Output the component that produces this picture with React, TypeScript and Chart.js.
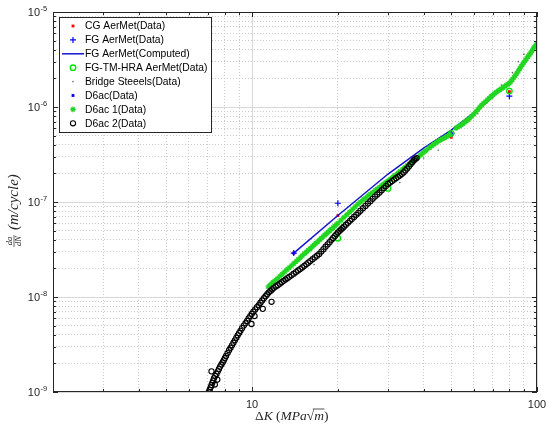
import React, { useEffect, useRef } from 'react';
import { Chart, registerables } from 'chart.js';
import { drawPoint } from 'chart.js/helpers';

Chart.register(...registerables);

// ---------- axis tick labels ----------
const xTickValues = [10, 100];
const xTickLabels = ['10', '100'];
const yTickExponents = [-5, -6, -7, -8, -9];
const yTickLabelBase = '10';

// ---------- series ----------
const legendLabels = [
  'CG AerMet(Data)',
  'FG AerMet(Data)',
  'FG AerMet(Computed)',
  'FG-TM-HRA AerMet(Data)',
  'Bridge Steeels(Data)',
  'D6ac(Data)',
  'D6ac 1(Data)',
  'D6ac 2(Data)',
];

const cgX = [14, 20, 50, 80];
const cgY = [2.9e-8, 7.2e-8, 4.8e-7, 1.45e-6];

const fgX = [14, 20, 50, 80];
const fgY = [2.9e-8, 9.7e-8, 5.3e-7, 1.3e-6];

const fgCompX = [14, 20, 30, 40, 50, 65, 80];
const fgCompY = [2.9e-8, 7.2e-8, 1.97e-7, 3.7e-7, 5.7e-7, 1.05e-6, 1.85e-6];

const hraX = [20, 30, 50, 80];
const hraY = [4.15e-8, 1.39e-7, 5.28e-7, 1.47e-6];

const bridgeX = [16.5, 22, 26, 28, 33, 36.5, 40, 44, 45, 55, 62, 70, 75, 82, 86, 90];
const bridgeY = [2.2e-8, 6.5e-8, 1.25e-7, 1.3e-7, 1.6e-7, 2.6e-7, 2.9e-7, 4.2e-7, 3.5e-7, 6.5e-7, 8.5e-7, 1.25e-6, 1.7e-6, 2.3e-6, 3.0e-6, 3.6e-6];

const d6acX = [14, 50];
const d6acY = [2.9e-8, 5.2e-7];

const d6ac1X = [
  11.4, 11.55, 11.7, 11.85, 12.0, 12.25, 12.5, 12.75, 13.0, 13.25, 13.5, 13.75, 14.0, 14.25, 14.5, 14.75,
  15.0, 15.25, 15.5, 15.75, 16.0, 16.25, 16.5, 16.75, 17.0, 17.25, 17.5, 17.75, 18.0, 18.25, 18.5, 18.75,
  19.0, 19.25, 19.5, 19.75, 20.0, 20.5, 21.0, 21.5, 22.0, 22.5, 23.0, 23.5, 24.0, 24.5, 25.0, 25.5,
  26.0, 26.5, 27.0, 27.5, 28.0, 28.5, 29.0, 29.5, 30.0, 30.6, 31.2, 31.8, 32.5, 33.1, 33.8, 34.4,
  35.0, 35.6, 36.3, 36.9, 37.6, 38.3, 39.0, 39.7, 40.5, 41.2, 42.0, 42.7, 43.5, 44.2, 45.0, 45.7,
  46.5, 47.2, 48.0, 48.7, 49.5, 52.0, 52.7, 53.5, 54.2, 55.0, 55.7, 56.5, 57.2, 58.0, 59.0, 60.0,
  61.0, 62.0, 63.0, 64.0, 65.0, 66.0, 67.0, 68.0, 69.0, 70.0, 71.0, 72.0, 73.0, 74.0, 75.0, 76.0,
  77.0, 78.0, 79.0, 80.0, 81.0, 82.0, 83.0, 84.0, 85.0, 86.0, 87.0, 88.0, 89.0, 90.0, 91.0, 92.0,
  93.0, 94.0, 95.0, 96.0, 97.0, 98.0, 99.0, 99.8,
];
const d6ac1Y = [
  1.28e-8, 1.33e-8, 1.38e-8, 1.43e-8, 1.48e-8, 1.56e-8, 1.65e-8, 1.74e-8, 1.84e-8, 1.94e-8, 2.04e-8, 2.14e-8, 2.25e-8, 2.36e-8, 2.48e-8, 2.6e-8,
  2.72e-8, 2.85e-8, 2.97e-8, 3.11e-8, 3.24e-8, 3.39e-8, 3.53e-8, 3.68e-8, 3.83e-8, 3.99e-8, 4.15e-8, 4.32e-8, 4.49e-8, 4.66e-8, 4.83e-8, 5.01e-8,
  5.2e-8, 5.38e-8, 5.58e-8, 5.78e-8, 5.98e-8, 6.43e-8, 6.88e-8, 7.35e-8, 7.85e-8, 8.37e-8, 8.9e-8, 9.48e-8, 1.0e-7, 1.06e-7, 1.1e-7, 1.16e-7,
  1.21e-7, 1.26e-7, 1.32e-7, 1.37e-7, 1.43e-7, 1.49e-7, 1.55e-7, 1.61e-7, 1.67e-7, 1.75e-7, 1.84e-7, 1.92e-7, 2.02e-7, 2.11e-7, 2.22e-7, 2.31e-7,
  2.41e-7, 2.51e-7, 2.63e-7, 2.73e-7, 2.85e-7, 2.98e-7, 3.12e-7, 3.27e-7, 3.42e-7, 3.58e-7, 3.75e-7, 3.9e-7, 4.05e-7, 4.2e-7, 4.35e-7, 4.47e-7,
  4.6e-7, 4.72e-7, 4.85e-7, 4.97e-7, 5.1e-7, 6.0e-7, 6.15e-7, 6.3e-7, 6.5e-7, 6.7e-7, 6.9e-7, 7.1e-7, 7.35e-7, 7.6e-7, 8.0e-7, 8.4e-7,
  8.9e-7, 9.4e-7, 9.95e-7, 1.05e-6, 1.1e-6, 1.14e-6, 1.19e-6, 1.24e-6, 1.29e-6, 1.34e-6, 1.39e-6, 1.43e-6, 1.48e-6, 1.52e-6, 1.56e-6, 1.6e-6,
  1.65e-6, 1.69e-6, 1.73e-6, 1.78e-6, 1.86e-6, 1.95e-6, 2.05e-6, 2.15e-6, 2.27e-6, 2.4e-6, 2.54e-6, 2.68e-6, 2.81e-6, 2.95e-6, 3.1e-6, 3.25e-6,
  3.4e-6, 3.55e-6, 3.72e-6, 3.9e-6, 4.1e-6, 4.3e-6, 4.45e-6, 4.6e-6,
];

const d6ac2X = [
  7.05, 7.1, 7.15, 7.2, 7.25, 7.3, 7.35, 7.42, 7.5, 7.58, 7.65, 7.72, 7.8, 7.88, 7.95, 8.02,
  8.1, 8.2, 8.3, 8.4, 8.5, 8.6, 8.7, 8.8, 8.9, 9.0, 9.1, 9.22, 9.35, 9.48, 9.6, 9.72,
  9.85, 9.97, 10.1, 10.25, 10.4, 10.55, 10.7, 10.85, 11.0, 11.15, 11.3, 11.45, 11.6, 11.75, 11.9, 12.1,
  12.3, 12.5, 12.7, 12.9, 13.1, 13.3, 13.5, 13.75, 14.0, 14.25, 14.5, 14.75, 15.0, 15.25, 15.5, 15.75,
  16.0, 16.3, 16.6, 16.9, 17.2, 17.5, 17.8, 18.1, 18.4, 18.7, 19.0, 19.25, 19.5, 19.75, 20.0, 20.25,
  20.5, 20.75, 21.0, 21.35, 21.7, 22.05, 22.4, 22.8, 23.2, 23.6, 24.0, 24.5, 25.0, 25.5, 26.0, 26.5,
  27.0, 27.5, 28.0, 28.5, 29.0, 29.5, 30.0, 30.5, 31.0, 31.5, 32.0, 32.5, 33.0, 33.5, 34.0, 34.5,
  35.0, 35.5, 36.0, 36.5, 37.0, 37.4, 37.8,
  7.2, 7.55, 7.4, 9.95, 10.2, 10.9, 11.7,
];
const d6ac2Y = [
  1.0e-9, 1.06e-9, 1.12e-9, 1.18e-9, 1.25e-9, 1.32e-9, 1.4e-9, 1.47e-9, 1.55e-9, 1.65e-9, 1.75e-9, 1.85e-9, 1.95e-9, 2.05e-9, 2.15e-9, 2.27e-9,
  2.4e-9, 2.57e-9, 2.75e-9, 2.92e-9, 3.1e-9, 3.3e-9, 3.5e-9, 3.72e-9, 3.95e-9, 4.17e-9, 4.4e-9, 4.7e-9, 5.0e-9, 5.3e-9, 5.6e-9, 5.95e-9,
  6.3e-9, 6.65e-9, 7.0e-9, 7.4e-9, 7.8e-9, 8.2e-9, 8.7e-9, 9.2e-9, 9.7e-9, 1.02e-8, 1.07e-8, 1.12e-8, 1.16e-8, 1.2e-8, 1.24e-8, 1.29e-8,
  1.33e-8, 1.38e-8, 1.43e-8, 1.48e-8, 1.53e-8, 1.58e-8, 1.63e-8, 1.69e-8, 1.76e-8, 1.83e-8, 1.9e-8, 1.97e-8, 2.05e-8, 2.13e-8, 2.21e-8, 2.3e-8,
  2.39e-8, 2.5e-8, 2.61e-8, 2.72e-8, 2.84e-8, 3.01e-8, 3.19e-8, 3.38e-8, 3.58e-8, 3.78e-8, 4.0e-8, 4.18e-8, 4.37e-8, 4.57e-8, 4.77e-8, 4.94e-8,
  5.12e-8, 5.3e-8, 5.5e-8, 5.77e-8, 6.04e-8, 6.33e-8, 6.62e-8, 6.97e-8, 7.33e-8, 7.7e-8, 8.09e-8, 8.59e-8, 9.1e-8, 9.64e-8, 1.02e-7, 1.08e-7,
  1.14e-7, 1.2e-7, 1.26e-7, 1.33e-7, 1.4e-7, 1.47e-7, 1.55e-7, 1.6e-7, 1.66e-7, 1.72e-7, 1.78e-7, 1.84e-7, 1.9e-7, 1.97e-7, 2.05e-7, 2.15e-7,
  2.25e-7, 2.37e-7, 2.5e-7, 2.62e-7, 2.75e-7, 2.83e-7, 2.9e-7,
  1.65e-9, 1.35e-9, 1.2e-9, 5.2e-9, 6.3e-9, 7.5e-9, 8.9e-9,
];

// ---------- helpers ----------
const toPts = (xs: number[], ys: number[]) => xs.map((x, i) => ({ x, y: ys[i] }));
const isPow10 = (v: number) => {
  const l = Math.log10(v);
  return Math.abs(l - Math.round(l)) < 1e-6;
};
const logTicks = (minExp: number, maxExp: number) => {
  const out: { value: number }[] = [];
  for (let e = minExp; e < maxExp; e++) {
    for (let m = 1; m <= 9; m++) out.push({ value: m * Math.pow(10, e) });
  }
  out.push({ value: Math.pow(10, maxExp) });
  return out;
};

const AXIS_COLOR = '#262626';
const SANS = '"Liberation Sans", Arial, sans-serif';
const SERIF = '"Liberation Serif", "Times New Roman", serif';

type Marker = { style: string | false; radius: number; fill: string; stroke: string; bw: number; line?: string };
const markers: Marker[] = [
  { style: 'rect', radius: 2, fill: '#ff0000', stroke: '#ff0000', bw: 0 },
  { style: 'cross', radius: 3, fill: 'rgba(0,0,0,0)', stroke: '#0000ff', bw: 1.2 },
  { style: false, radius: 0, fill: 'rgba(0,0,0,0)', stroke: '#1414cc', bw: 1.5, line: '#1414cc' },
  { style: 'circle', radius: 2.7, fill: 'rgba(0,0,0,0)', stroke: '#00e600', bw: 1.4 },
  { style: 'circle', radius: 0.8, fill: '#606060', stroke: '#606060', bw: 0 },
  { style: 'rect', radius: 2, fill: '#0000ff', stroke: '#0000ff', bw: 0 },
  { style: 'star', radius: 2.8, fill: 'rgba(0,0,0,0)', stroke: '#22d622', bw: 1.3 },
  { style: 'circle', radius: 2.6, fill: 'rgba(0,0,0,0)', stroke: '#000000', bw: 1.1 },
];

const decorPlugin = {
  id: 'decor',
  beforeDraw(chart: any) {
    const { ctx, width, height } = chart;
    ctx.save();
    ctx.fillStyle = '#ffffff';
    ctx.fillRect(0, 0, width, height);
    ctx.restore();
  },
  afterDatasetsDraw(chart: any) {
    const { ctx, chartArea: a, scales } = chart;
    const xs = scales.x;
    const ys = scales.y;
    ctx.save();
    // inward tick marks on all four sides
    ctx.strokeStyle = AXIS_COLOR;
    ctx.lineWidth = 1;
    ctx.beginPath();
    xs.ticks.forEach((t: any) => {
      const px = Math.round(xs.getPixelForValue(t.value)) + 0.5;
      const L = isPow10(t.value) ? 5 : 3;
      ctx.moveTo(px, a.bottom);
      ctx.lineTo(px, a.bottom - L);
      ctx.moveTo(px, a.top);
      ctx.lineTo(px, a.top + L);
    });
    ys.ticks.forEach((t: any) => {
      const py = Math.round(ys.getPixelForValue(t.value)) + 0.5;
      const L = isPow10(t.value) ? 5 : 3;
      ctx.moveTo(a.left, py);
      ctx.lineTo(a.left + L, py);
      ctx.moveTo(a.right, py);
      ctx.lineTo(a.right - L, py);
    });
    ctx.stroke();
    ctx.strokeRect(Math.round(a.left) + 0.5, Math.round(a.top) + 0.5, Math.round(a.width) - 1, Math.round(a.height) - 1);

    // x tick labels
    ctx.fillStyle = AXIS_COLOR;
    ctx.font = `11px ${SANS}`;
    ctx.textAlign = 'center';
    ctx.textBaseline = 'middle';
    xTickValues.forEach((v, i) => {
      ctx.fillText(xTickLabels[i], xs.getPixelForValue(v), a.bottom + 13);
    });

    // y tick labels with exponents
    yTickExponents.forEach((e) => {
      const py = ys.getPixelForValue(Math.pow(10, e));
      ctx.font = `11px ${SANS}`;
      ctx.textAlign = 'right';
      ctx.textBaseline = 'middle';
      ctx.fillText(yTickLabelBase, a.left - 13, py + 1);
      ctx.font = `7.5px ${SANS}`;
      ctx.textAlign = 'left';
      ctx.fillText(String(e), a.left - 12.5, py - 3);
    });

    // x axis title: ΔK (MPa√m)
    {
      let x = 255;
      const base = a.bottom + 28;
      ctx.textAlign = 'left';
      ctx.textBaseline = 'alphabetic';
      const seg = (txt: string, italic: boolean) => {
        ctx.font = `${italic ? 'italic ' : ''}13.5px ${SERIF}`;
        ctx.fillText(txt, x, base);
        const w = ctx.measureText(txt).width;
        const start = x;
        x += w;
        return [start, w];
      };
      seg('\u0394', false);
      seg('K', true);
      seg(' (', false);
      seg('MPa', true);
      const [sx] = seg('\u221A', false);
      const [mx, mw] = seg('m', true);
      seg(')', false);
      ctx.lineWidth = 0.8;
      ctx.beginPath();
      ctx.moveTo(sx + 6, base - 11);
      ctx.lineTo(mx + mw + 0.5, base - 11);
      ctx.stroke();
    }

    // y axis title: da/dN (m/cycle)
    {
      ctx.translate(11, 249);
      ctx.rotate(-Math.PI / 2);
      ctx.textBaseline = 'alphabetic';
      ctx.textAlign = 'center';
      ctx.font = `italic 8.5px ${SERIF}`;
      ctx.fillText('da', 8, 1);
      ctx.fillText('dN', 8, 10);
      ctx.lineWidth = 0.7;
      ctx.beginPath();
      ctx.moveTo(2, 3);
      ctx.lineTo(14, 3);
      ctx.stroke();
      ctx.textAlign = 'left';
      ctx.font = `italic 15px ${SERIF}`;
      ctx.fillText('(m/cycle)', 19, 6.5);
    }
    ctx.restore();
  },
  afterDraw(chart: any) {
    const { ctx } = chart;
    const L = 59, T = 17, R = 211, B = 132;
    ctx.save();
    ctx.fillStyle = '#ffffff';
    ctx.fillRect(L, T, R - L, B - T);
    ctx.strokeStyle = AXIS_COLOR;
    ctx.lineWidth = 1;
    ctx.strokeRect(L + 0.5, T + 0.5, R - L, B - T);
    chart.data.datasets.forEach((ds: any, i: number) => {
      const cy = 26 + i * 13.9;
      const m = markers[i];
      if (m.line) {
        ctx.strokeStyle = m.line;
        ctx.lineWidth = m.bw;
        ctx.beginPath();
        ctx.moveTo(62, cy);
        ctx.lineTo(84, cy);
        ctx.stroke();
      } else if (m.style) {
        ctx.fillStyle = m.fill;
        ctx.strokeStyle = m.stroke;
        ctx.lineWidth = m.bw;
        drawPoint(ctx, { pointStyle: m.style as any, radius: m.radius, rotation: 0, borderWidth: m.bw }, 73, cy);
      }
      ctx.fillStyle = '#000000';
      ctx.font = `10.3px ${SANS}`;
      ctx.textAlign = 'left';
      ctx.textBaseline = 'middle';
      ctx.fillText(ds.label, 85, cy + 0.5);
    });
    ctx.restore();
  },
};

const gridColor = (c: any) => (c.tick && isPow10(c.tick.value) ? '#d9d9d9' : '#c9c9c9');
const gridDash = (c: any) => (c.tick && isPow10(c.tick.value) ? [] : [1, 2]);

export default function App() {
  const canvasRef = useRef<HTMLCanvasElement | null>(null);

  useEffect(() => {
    document.body.style.margin = '0';
    const canvas = canvasRef.current;
    if (!canvas) return;
    const seriesX = [cgX, fgX, fgCompX, hraX, bridgeX, d6acX, d6ac1X, d6ac2X];
    const seriesY = [cgY, fgY, fgCompY, hraY, bridgeY, d6acY, d6ac1Y, d6ac2Y];
    const datasets = legendLabels.map((label, i) => {
      const m = markers[i];
      const isLine = !!m.line;
      return {
        label,
        data: toPts(seriesX[i], seriesY[i]),
        showLine: isLine,
        borderColor: isLine ? m.line : m.stroke,
        borderWidth: isLine ? m.bw : 0,
        backgroundColor: m.fill,
        pointStyle: m.style || 'circle',
        pointRadius: isLine ? 0 : m.radius,
        pointHoverRadius: isLine ? 0 : m.radius,
        pointBorderWidth: m.bw,
        pointBorderColor: m.stroke,
        pointBackgroundColor: m.fill,
        order: 20 - i,
      };
    });

    const chart = new Chart(canvas, {
      type: 'scatter',
      data: { datasets: datasets as any },
      options: {
        animation: false,
        responsive: true,
        maintainAspectRatio: false,
        layout: { padding: { left: 53, top: 12, right: 13, bottom: 40 } },
        plugins: { legend: { display: false }, tooltip: { enabled: false } },
        scales: {
          x: {
            type: 'logarithmic',
            min: 2,
            max: 100,
            afterBuildTicks: (axis: any) => {
              axis.ticks = logTicks(0, 2).filter((t) => t.value >= 2);
            },
            ticks: { display: false, autoSkip: false },
            grid: { color: gridColor, lineWidth: 1, drawTicks: false },
            border: { display: false, dash: gridDash },
          },
          y: {
            type: 'logarithmic',
            min: 1e-9,
            max: 1e-5,
            afterBuildTicks: (axis: any) => {
              axis.ticks = logTicks(-9, -5);
            },
            ticks: { display: false, autoSkip: false },
            grid: { color: gridColor, lineWidth: 1, drawTicks: false },
            border: { display: false, dash: gridDash },
          },
        },
      },
      plugins: [decorPlugin],
    });
    return () => chart.destroy();
  }, []);

  return (
    <div style={{ position: 'relative', width: 550, height: 432 }}>
      <canvas ref={canvasRef} />
    </div>
  );
}
